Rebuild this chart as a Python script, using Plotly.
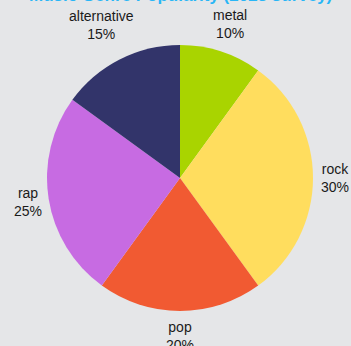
import math
import plotly.graph_objects as go

genres = ["metal", "rock", "pop", "rap", "alternative"]
shares = [10, 30, 20, 25, 15]
colors = ["#A9D400", "#FFDD5E", "#F15A32", "#C76BE2", "#32346A"]

W, H = 351, 346
M = dict(l=47, r=38, t=45, b=35)
plot_w = W - M["l"] - M["r"]
plot_h = H - M["t"] - M["b"]
radius_px = min(plot_w, plot_h) / 2
label_font = dict(color="#1a1a1a", size=14, family="Liberation Sans, Arial, sans-serif")

fig = go.Figure(
    go.Pie(
        labels=genres,
        values=shares,
        sort=False,
        direction="clockwise",
        rotation=0,
        marker=dict(colors=colors),
        textinfo="none",
        hoverinfo="label+percent",
        showlegend=False,
    )
)

# outside labels at each slice's mid-angle, pushed clear of the rim
total = sum(shares)
cum = 0
for name, v in zip(genres, shares):
    mid = (cum + v / 2) / total * 2 * math.pi
    cum += v
    s, c = math.sin(mid), math.cos(mid)
    pct = f"{round(v / total * 100)}%"
    half_w = max(len(name), len(pct)) * 6.4 / 2
    half_h = 16
    r = radius_px + 9 + half_w * abs(s) + half_h * abs(c)
    fig.add_annotation(
        x=0.5 + r * s / plot_w,
        y=0.5 + r * c / plot_h,
        xref="paper",
        yref="paper",
        text=f"{name}<br>{pct}",
        showarrow=False,
        xanchor="center",
        yanchor="middle",
        font=label_font,
    )

fig.add_annotation(
    text="<b>Music Genre Popularity (2023 survey)</b>",
    x=0.5,
    y=1,
    xref="paper",
    yref="paper",
    xanchor="center",
    yanchor="bottom",
    yshift=M["t"] - 7,
    showarrow=False,
    font=dict(color="#29B6F6", size=17, family="Liberation Sans, Arial, sans-serif"),
)

fig.update_layout(
    width=W,
    height=H,
    paper_bgcolor="#E5E6E8",
    plot_bgcolor="#E5E6E8",
    margin=M,
)

fig.write_html("out.html")
